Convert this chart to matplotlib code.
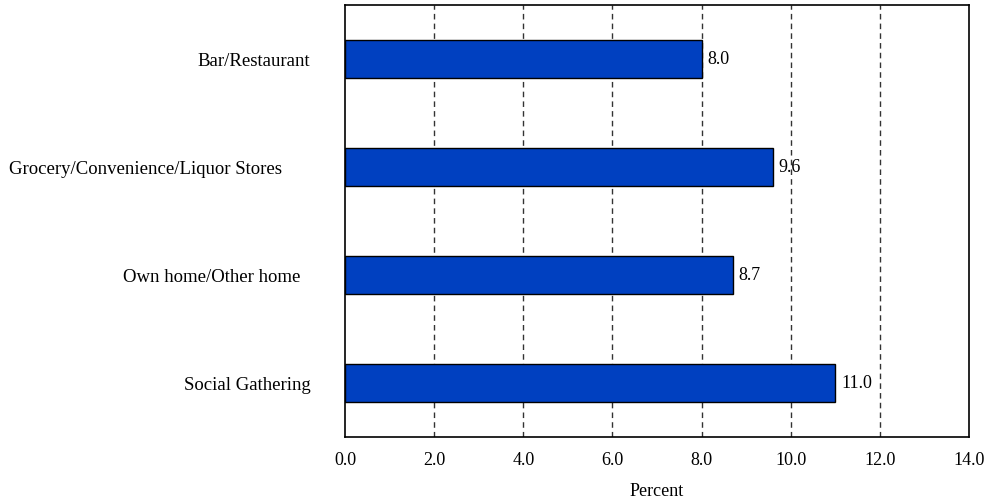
import matplotlib
matplotlib.use("Agg")
import matplotlib.pyplot as plt

# trailing spaces reproduce the uneven right edges of the original labels
categories = ['Bar/Restaurant', 'Grocery/Convenience/Liquor Stores      ',
              'Own home/Other home  ', 'Social Gathering']
values = [8.0, 9.6, 8.7, 11.0]
ticks = [0, 2, 4, 6, 8, 10, 12, 14]

plt.rcParams['font.family'] = ['Liberation Serif', 'DejaVu Serif']

fig = plt.figure(figsize=(9.84, 5), dpi=100)
ax = fig.add_axes([0.3506, 0.126, 0.6342, 0.864])

pos = list(range(len(categories)))
ax.barh(pos, values, height=0.35, color='#0040C0', edgecolor='black',
        linewidth=1, zorder=3)
for p, v in zip(pos, values):
    ax.text(v + 0.13, p, f'{v:.1f}', va='center', ha='left', fontsize=13, zorder=4)

ax.set_xlim(0, 14)
ax.set_ylim(len(categories) - 0.5, -0.5)
ax.set_xticks(ticks)
ax.set_xticklabels([f'{t:.1f}' for t in ticks], fontsize=13)
ax.set_yticks(pos)
ax.set_yticklabels(categories, fontsize=13.5)
ax.tick_params(axis='y', length=0, pad=25)
ax.tick_params(axis='x', length=0, pad=11)
for t in ticks[1:-1]:
    ax.axvline(t, color='#333333', linewidth=1, linestyle=(0, (4, 3)), zorder=1)
for s in ax.spines.values():
    s.set_linewidth(1.2)
ax.set_xlabel('Percent', fontsize=13, labelpad=10)

fig.savefig('out.png', dpi=100)
